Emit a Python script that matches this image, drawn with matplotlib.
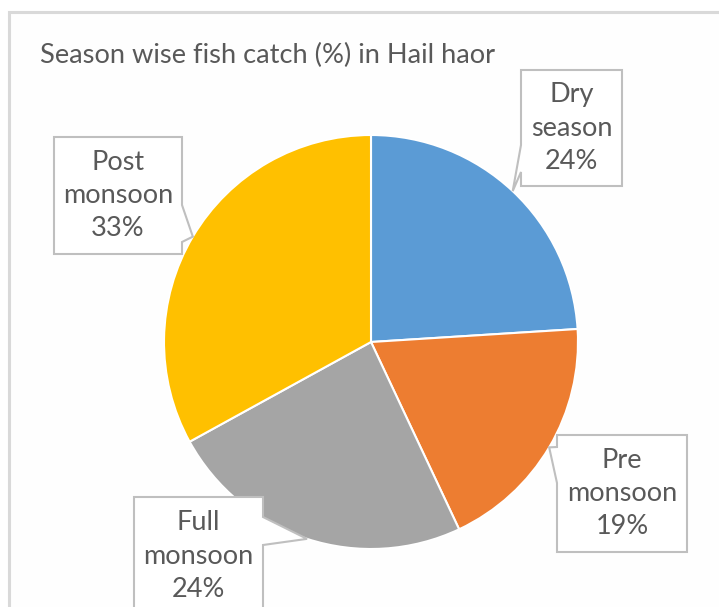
import matplotlib.pyplot as plt
import numpy as np
from matplotlib.patches import Polygon, Rectangle

# season wise catch share
seasons = ["Dry\nseason", "Pre\nmonsoon", "Full\nmonsoon", "Post\nmonsoon"]
catch_pct = [24, 19, 24, 33]
colores = ["#5B9BD5", "#ED7D31", "#A5A5A5", "#FFC000"]

W, H = 719, 607
gris_txt = "#595959"
gris_borde = "#BFBFBF"

plt.rcParams['font.family'] = ['Lato', 'DejaVu Sans']

fig = plt.figure(figsize=(W / 100, H / 100), dpi=100)
ax = fig.add_axes([0, 0, 1, 1])

# marco del grafico
ax.add_patch(Rectangle((9, -5), W, H - 12 + 5, facecolor="#FEFEFE",
                       edgecolor="#D9D9D9", lw=2.2, zorder=0))

centro = (371, H - 342)
radio = 207
wedges, _ = ax.pie(catch_pct, colors=colores, startangle=90, counterclock=False,
                   center=centro, radius=radio, frame=True,
                   wedgeprops=dict(edgecolor="white", linewidth=1.5))

ax.set_xlim(0, W)
ax.set_ylim(0, H)
ax.set_aspect("equal")
ax.axis("off")

ax.text(40, H - 55, "Season wise fish catch (%) in Hail haor", fontsize=19.6,
        color=gris_txt, ha="left", va="center")

# cajas de etiqueta: (izq, arriba, der, abajo), lado del puntero, base del puntero
cajas = [
    ((521, 70, 622, 186), "left", (145, 172)),
    ((557, 435, 687, 552), "left", (447, 483)),
    ((134, 497, 263, 615), "right", (517, 545)),
    ((54, 137, 182, 254), "right", (205, 242)),
]


def callout(caja, lado, base, punta):
    l, t, r, b = caja
    if lado == "left":
        pts = [(l, t), (r, t), (r, b), (l, b), (l, base[1]), punta, (l, base[0])]
    else:
        pts = [(l, t), (r, t), (r, base[0]), punta, (r, base[1]), (r, b), (l, b)]
    return [(x, H - y) if (x, y) != punta else punta for x, y in pts]


for w, (caja, lado, base), nombre, pct in zip(wedges, cajas, seasons, catch_pct):
    ang = np.deg2rad((w.theta1 + w.theta2) / 2)
    punta = (w.center[0] + w.r * np.cos(ang), w.center[1] + w.r * np.sin(ang))
    poly = Polygon(callout(caja, lado, base, punta), closed=True, facecolor="white",
                   edgecolor=gris_borde, lw=1.5, zorder=5)
    ax.add_patch(poly)
    l, t, r, b = caja
    ax.text((l + r) / 2, H - (t + b) / 2, f"{nombre}\n{pct}%", fontsize=19.5,
            color=gris_txt, ha="center", va="center", linespacing=1.42, zorder=6)

plt.savefig("out.png", dpi=100)
